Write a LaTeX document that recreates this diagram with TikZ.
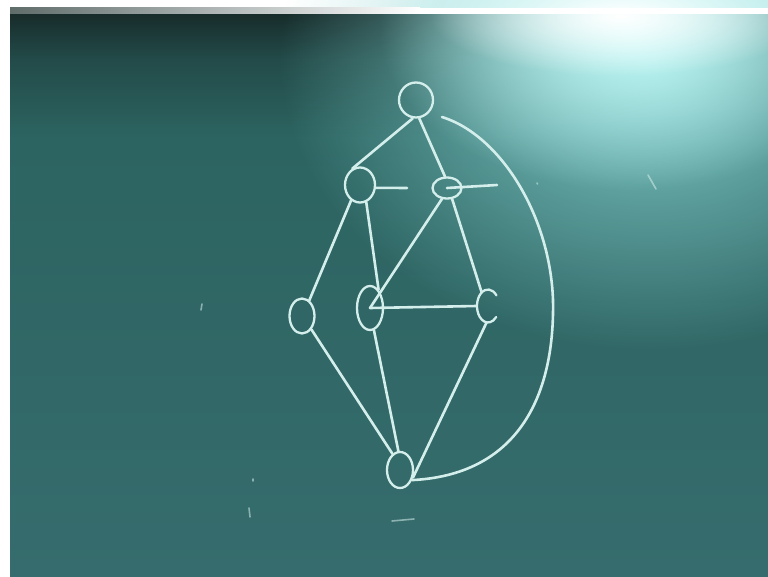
\documentclass[tikz,border=0pt]{standalone}
\usetikzlibrary{shapes.geometric,fadings}
\definecolor{boardtop}{HTML}{172C2B}
\definecolor{boardmid}{HTML}{2C6461}
\definecolor{boardbot}{HTML}{366C6D}
\definecolor{glareA}{HTML}{86D2D0}
\definecolor{glareB}{HTML}{C4FAF8}
\definecolor{chalk}{HTML}{D4EEEC}
\definecolor{ledge}{HTML}{5E6C6A}
\tikzfading[name=glow, inner color=transparent!0, outer color=transparent!100]
\pgfdeclareverticalshading{boardshade}{100bp}{color(0bp)=(boardbot); color(25bp)=(boardbot); color(64bp)=(boardmid); color(71bp)=(boardmid!55!boardtop); color(75bp)=(boardtop); color(100bp)=(boardtop)}
\tikzset{
  vtx/.style={ellipse, draw=chalk, line width=2.3pt, inner sep=0pt},
  ghost/.style={ellipse, draw=none, inner sep=0pt},
  chalkline/.style={draw=chalk, line width=2.6pt, line cap=round},
  speck/.style={draw=chalk, line width=1.6pt, line cap=round, opacity=0.55}
}
\begin{document}
\begin{tikzpicture}[x=1pt,y=-1pt]
\useasboundingbox (0,0) rectangle (768,577);
% background
\fill[white] (0,0) rectangle (768,577);
\shade[shading=boardshade] (10,14) rectangle (768,577);
\fill[glareA, path fading=glow] (650,60) ellipse (370 and 290);
\fill[glareB, path fading=glow] (630,30) ellipse (250 and 160);
\fill[white, path fading=glow] (620,16) ellipse (190 and 60);
\shade[left color=ledge, right color=white] (10,8) rectangle (420,14);
\fill[white] (420,8) rectangle (768,14);
% vertices
\node[vtx, minimum width=34pt, minimum height=35pt] (t)  at (416,100) {};
\node[vtx, minimum width=30pt, minimum height=35pt] (lm) at (360,185) {};
\node[vtx, minimum width=29pt, minimum height=21pt] (rm) at (447,188) {};
\node[vtx, minimum width=25pt, minimum height=35pt] (ll) at (302,316) {};
\node[vtx, minimum width=26pt, minimum height=44pt] (ml) at (370,308) {};
\node[ghost, minimum width=22pt, minimum height=33pt] (rl) at (488,306) {};
\node[vtx, minimum width=26pt, minimum height=36pt] (bt) at (400,470) {};
\draw[chalkline, line width=2.3pt] (rl.center) ++(-40:11 and 16.5)
  arc[start angle=-40, end angle=-318, x radius=11, y radius=16.5];
% stubs and arc end
\coordinate (lmstub) at (407,188);
\coordinate (rmstub) at (497,185);
\coordinate (arcstart) at (442,117);
% edges
\draw[chalkline] (t.-100) -- (lm.115);
\draw[chalkline] (t.-80) -- (rm.100);
\draw[chalkline] (lm.-10) -- (lmstub);
\draw[chalkline] (rm.center) -- (rmstub);
\draw[chalkline] (lm.-120) -- (ll.65);
\draw[chalkline] (lm.-70) -- (ml.65);
\draw[chalkline] (rm.-115) -- (ml.center);
\draw[chalkline] (rm.-65) -- (rl.115);
\draw[chalkline] (ml.center) -- (rl.west);
\draw[chalkline] (ll.-55) -- (bt.115);
\draw[chalkline] (ml.-80) -- (bt.95);
\draw[chalkline] (rl.-95) -- (bt.-30);
\draw[chalkline] (arcstart) .. controls (500,135) and (550,215) .. (553,300)
  .. controls (555,400) and (515,475) .. (bt.-40);
% faint chalk specks
\draw[speck] (253,479) -- (253,481);
\draw[speck] (249,508) -- (250,517);
\draw[speck] (392,521) -- (414,519);
\draw[speck] (202,304) -- (201,310);
\draw[speck] (648,175) -- (656,189);
\draw[speck] (537,183) -- (537.5,184);
\end{tikzpicture}
\end{document}
